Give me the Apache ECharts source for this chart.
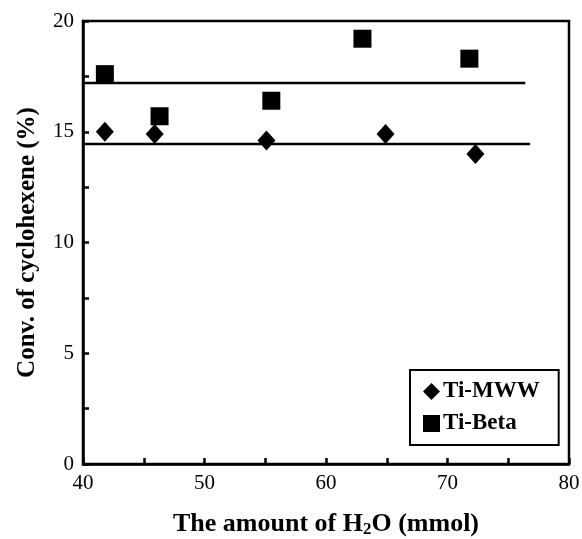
<!DOCTYPE html>
<html><head><meta charset="utf-8">
<script src="https://cdn.jsdelivr.net/npm/echarts@6/dist/echarts.min.js"></script>
<style>html,body{margin:0;padding:0;background:#fff}#c{width:582px;height:539px}</style>
</head><body><div id="c"></div>
<script>
const waterMWW = [41.8, 45.9, 55.1, 64.9, 72.3];
const convMWW  = [15.0, 14.9, 14.6, 14.9, 14.0];
const waterBeta = [41.8, 46.3, 55.5, 63.0, 71.8];
const convBeta  = [17.6, 15.7, 16.4, 19.2, 18.3];
const avgBetaX = [40, 76.4];
const avgBetaY = [17.2, 17.2];
const avgMWWX = [40, 76.8];
const avgMWWY = [14.45, 14.45];
const xTicks = [40, 50, 60, 70, 80];
const yTicks = [0, 5, 10, 15, 20];

const zip = (a, b) => a.map((v, i) => [v, b[i]]);
const font = 'Liberation Serif';
const chart = echarts.init(document.getElementById('c'));
chart.setOption({
  animation: false,
  backgroundColor: '#fff',
  grid: {left: 83, right: 13, top: 21, bottom: 75, containLabel: false, outerBoundsMode: 'none',
    show: true, borderColor: '#000', borderWidth: 2.5, backgroundColor: 'transparent'},
  xAxis: {
    type: 'value', min: 40, max: 80, interval: 5,
    axisLine: {show: true, lineStyle: {color: '#000', width: 2.5}},
    axisTick: {show: true, inside: true, length: 6, lineStyle: {color: '#000', width: 2.5}},
    axisLabel: {color: '#000', fontFamily: font, fontSize: 21, margin: 9,
      formatter: v => xTicks.includes(v) ? String(v) : ''},
    splitLine: {show: false},
    name: '{a|The amount of H}{s|2}{a|O (mmol)}',
    nameLocation: 'middle', nameGap: 47,
    nameTextStyle: {rich: {
      a: {fontFamily: font, fontSize: 26, fontWeight: 'bold', color: '#000'},
      s: {fontFamily: font, fontSize: 17, fontWeight: 'bold', color: '#000', verticalAlign: 'bottom', padding: [10, 0, 0, 0]}
    }}
  },
  yAxis: {
    type: 'value', min: 0, max: 20, interval: 2.5,
    axisLine: {show: true, lineStyle: {color: '#000', width: 2.5}},
    axisTick: {show: true, inside: true, length: 6, lineStyle: {color: '#000', width: 2.5}},
    axisLabel: {color: '#000', fontFamily: font, fontSize: 21, margin: 9,
      formatter: v => yTicks.includes(v) ? String(v) : ''},
    splitLine: {show: false},
    name: 'Conv. of cyclohexene (%)',
    nameLocation: 'middle', nameGap: 43,
    nameTextStyle: {fontFamily: font, fontSize: 25, fontWeight: 'bold', color: '#000'}
  },
  legend: {
    orient: 'vertical', left: 410, top: 370,
    data: ['Ti-MWW', 'Ti-Beta'],
    borderColor: '#000', borderWidth: 2, padding: [10, 19, 10, 13], itemGap: 9,
    itemWidth: 17, itemHeight: 17,
    textStyle: {fontFamily: font, fontSize: 23, fontWeight: 'bold', color: '#000', padding: [0, 0, 0, -2]}
  },
  series: [
    {name: 'avgBeta', type: 'line', data: zip(avgBetaX, avgBetaY), symbol: 'none', lineStyle: {color: '#000', width: 2.5}, silent: true},
    {name: 'avgMWW', type: 'line', data: zip(avgMWWX, avgMWWY), symbol: 'none', lineStyle: {color: '#000', width: 2.5}, silent: true},
    {name: 'Ti-MWW', type: 'scatter', data: zip(waterMWW, convMWW), symbol: 'diamond', symbolSize: [18, 20], itemStyle: {color: '#000', opacity: 1}},
    {name: 'Ti-Beta', type: 'scatter', data: zip(waterBeta, convBeta), symbol: 'rect', symbolSize: 18, itemStyle: {color: '#000', opacity: 1}}
  ]
});
</script></body></html>
